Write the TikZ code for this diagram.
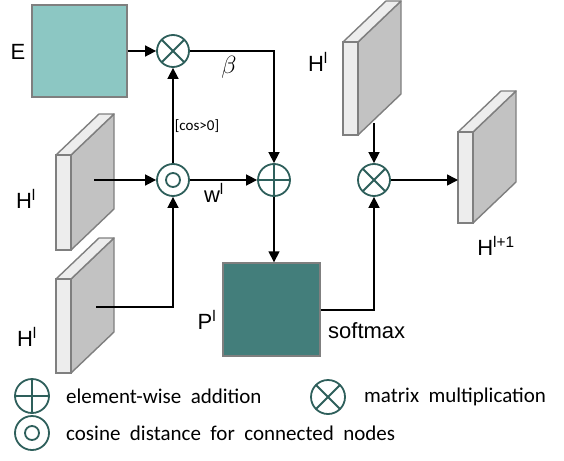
\documentclass[tikz,border=0pt]{standalone}
\usepackage{fontspec}
\setmainfont{Liberation Sans}
\newfontfamily\legfont{Carlito}
\usetikzlibrary{arrows.meta,calc}
\definecolor{teal1}{HTML}{8CC7C3}
\definecolor{teal2}{HTML}{437E7B}
\definecolor{ring}{HTML}{2E5F5B}
\definecolor{slabfront}{HTML}{EDEDED}
\definecolor{slabside}{HTML}{C2C2C2}
\definecolor{slabedge}{HTML}{7F7F7F}
\newcommand\slab[4]{%
  \draw[slabedge,line width=1.4pt,fill=slabside,line join=round] (#1+15,#2) -- (#1+58,#2-41) -- (#1+58,#3-41) -- (#1+15,#3) -- cycle;
  \draw[slabedge,line width=1.4pt,fill=slabfront,line join=round] (#1,#2) -- (#1+43,#2-41) -- (#1+58,#2-41) -- (#1+15,#2) -- cycle;
  \draw[slabedge,line width=1.4pt,fill=slabfront] (#1,#2) rectangle (#1+15,#3);
  \coordinate (#4) at (#1+7.5,#2);
}
\tikzset{
  opcircle/.style={circle,draw=ring,line width=1.8pt,minimum size=32pt,inner sep=0pt,fill=white},
  otimesop/.style={opcircle,path picture={
     \draw[ring,line width=1.8pt] ($(path picture bounding box.center)+(45:17pt)$) -- ($(path picture bounding box.center)+(225:17pt)$);
     \draw[ring,line width=1.8pt] ($(path picture bounding box.center)+(135:17pt)$) -- ($(path picture bounding box.center)+(315:17pt)$);}},
  oplusop/.style={opcircle,path picture={
     \draw[ring,line width=1.8pt] ($(path picture bounding box.center)+(0:17pt)$) -- ($(path picture bounding box.center)+(180:17pt)$);
     \draw[ring,line width=1.8pt] ($(path picture bounding box.center)+(90:17pt)$) -- ($(path picture bounding box.center)+(270:17pt)$);}},
  odotop/.style={opcircle,path picture={
     \draw[ring,line width=1.8pt] (path picture bounding box.center) circle[radius=7pt];}},
  arr/.style={line width=1.6pt,-{Triangle[length=11pt,width=11pt]}},
  lab/.style={font=\fontsize{22}{24}\selectfont,inner sep=0pt},
  leg/.style={font=\legfont\fontsize{21}{24}\selectfont,inner sep=0pt,anchor=west},
  matbox/.style={draw=slabedge,line width=1.4pt,inner sep=0pt}
}
\begin{document}
\begin{tikzpicture}[x=1pt,y=-1pt]
\useasboundingbox (0,0) rectangle (564,460);
% slabs
\slab{56}{155}{250}{s1top}
\slab{56}{279}{373}{s2top}
\slab{343}{42}{135}{s3top}
\slab{458}{132}{223}{s4top}
% boxes
\node[matbox,fill=teal1,minimum width=95pt,minimum height=92pt] (E) at (79.5,51) {};
\node[matbox,fill=teal2,minimum width=97pt,minimum height=93pt] (P) at (271.5,309.5) {};
% operators
\node[otimesop] (ot1) at (173,51) {};
\node[odotop] (od) at (173,180) {};
\node[oplusop] (op) at (274,180) {};
\node[otimesop] (ot2) at (374,180) {};
% connector end points
\coordinate (c1) at (94,180);
\coordinate (c2) at (96,307);
\coordinate (c3) at (374,123);
\coordinate (c4) at (458,180);
% connectors
\draw[arr] (E.east) -- (ot1.west);
\draw[arr] (ot1.east) -| (op.north);
\draw[arr] (od.north) -- (ot1.south);
\draw[arr] (c1) -- (od.west);
\draw[arr] (c2) -| (od.south);
\draw[arr] (od.east) -- (op.west);
\draw[arr] (op.south) -- (op.south |- P.north);
\draw[arr] (P.east |- 0,310) -| (ot2.south);
\draw[arr] (c3) -- (ot2.north);
\draw[arr] (ot2.east) -- (c4);
% labels
\node[lab] (lE) at (18,52) {E};
\node[lab] (lH1) at (26,199) {H\textsuperscript{l}};
\node[lab] (lH2) at (27,337) {H\textsuperscript{l}};
\node[lab] (lH3) at (318,62) {H\textsuperscript{l}};
\node[lab] (lH4) at (496,246) {H\textsuperscript{l+1}};
\node[lab] (lP) at (207,320) {P\textsuperscript{l}};
\node[inner sep=0pt,font=\fontsize{26}{28}\selectfont] (lb) at (229,67) {$\beta$};
\node[lab] (lw) at (214,193) {w\textsuperscript{l}};
\node[inner sep=0pt,font=\legfont\fontsize{15}{17}\selectfont] (lcos) at (197,126) {[cos>0]};
\node[lab,anchor=west] (lsm) at (328,331) {softmax};
% legend
\node[oplusop,minimum size=34pt] (gop) at (32,396) {};
\node[odotop,minimum size=34pt] (god) at (32,433) {};
\node[otimesop,minimum size=34pt] (got) at (328,397) {};
\node[leg] (t1) at (66,396) {element-wise\ \ addition};
\node[leg] (t2) at (66,433) {cosine\ \ distance\ \ for\ \ connected\ \ nodes};
\node[leg] (t3) at (364,397) {matrix\ \ multiplication};
\end{tikzpicture}
\end{document}
